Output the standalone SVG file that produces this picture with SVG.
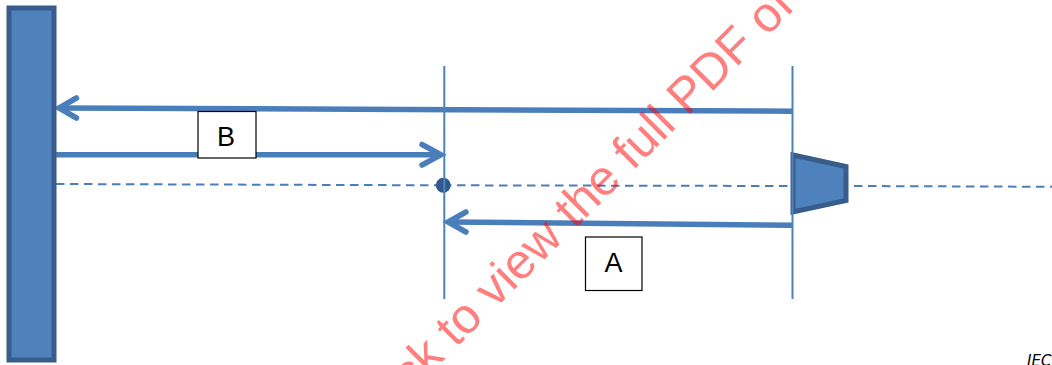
<svg xmlns="http://www.w3.org/2000/svg" width="1052" height="365" viewBox="0 0 1052 365">
<style>
.thin{stroke:#4f81bd;stroke-width:2;fill:none}
.dash{stroke:#4a7ebb;stroke-width:2;fill:none;stroke-dasharray:8.500 5.500}
.arrow{stroke:#4a7ebb;stroke-width:5.500;fill:none;stroke-linecap:butt}
.head{stroke:#4a7ebb;stroke-width:5.500;fill:none;stroke-linecap:round;stroke-linejoin:miter}
.box{fill:#fff;stroke:#000;stroke-width:1.200}
.lbl{font-family:"Liberation Sans",Arial,sans-serif;font-size:27px;fill:#000;text-anchor:middle}
.shape{fill:#4f81bd;stroke:#385d8a;stroke-width:5}
</style>
<g id="connectors">
<path class="dash" d="M56 184L443 185.300"/>
<path class="dash" d="M443 185.300L793 186"/>
<path class="dash" d="M854 186L1052 186.800"/>
<path class="arrow" d="M60 108L792 111.200"/>
<path class="head" d="M76.500 98L59 108L76.500 118"/>
<path class="arrow" d="M54 154.800H440"/>
<path class="head" d="M422 144.500L441 154.800L422 165"/>
<path class="arrow" d="M449 222L792 225.300"/>
<path class="head" d="M466 212L448 222L466 232"/>
</g>
<g id="wall"><rect class="shape" x="9" y="8" width="45" height="352"/></g>
<g id="point"><circle cx="443.300" cy="185.300" r="7.500" fill="#2f5b8c"/></g>
<g id="lens"><path class="shape" d="M793 155L846 166.500V200.500L793 212Z"/></g>
<g id="guides">
<path class="thin" d="M444.300 66V299"/>
<path class="thin" d="M792.500 66V299"/>
</g>
<g id="label-b"><rect class="box" x="198" y="111.500" width="58" height="46.500"/><text class="lbl" x="226" y="146">B</text></g>
<g id="label-a"><rect class="box" x="585.500" y="237" width="56.500" height="53.500"/><text class="lbl" x="613.500" y="272">A</text></g>
<g id="footer"><text x="1027" y="366" font-family="'DejaVu Sans',sans-serif" font-size="15" font-style="italic" fill="#000">IEC</text></g>
<g id="watermark"><text transform="translate(411 393) rotate(-45)" font-family="'Liberation Sans',Arial,sans-serif" font-size="49.500" fill="#ff0000" fill-opacity="0.5">ck to view the full PDF of</text></g>
</svg>
